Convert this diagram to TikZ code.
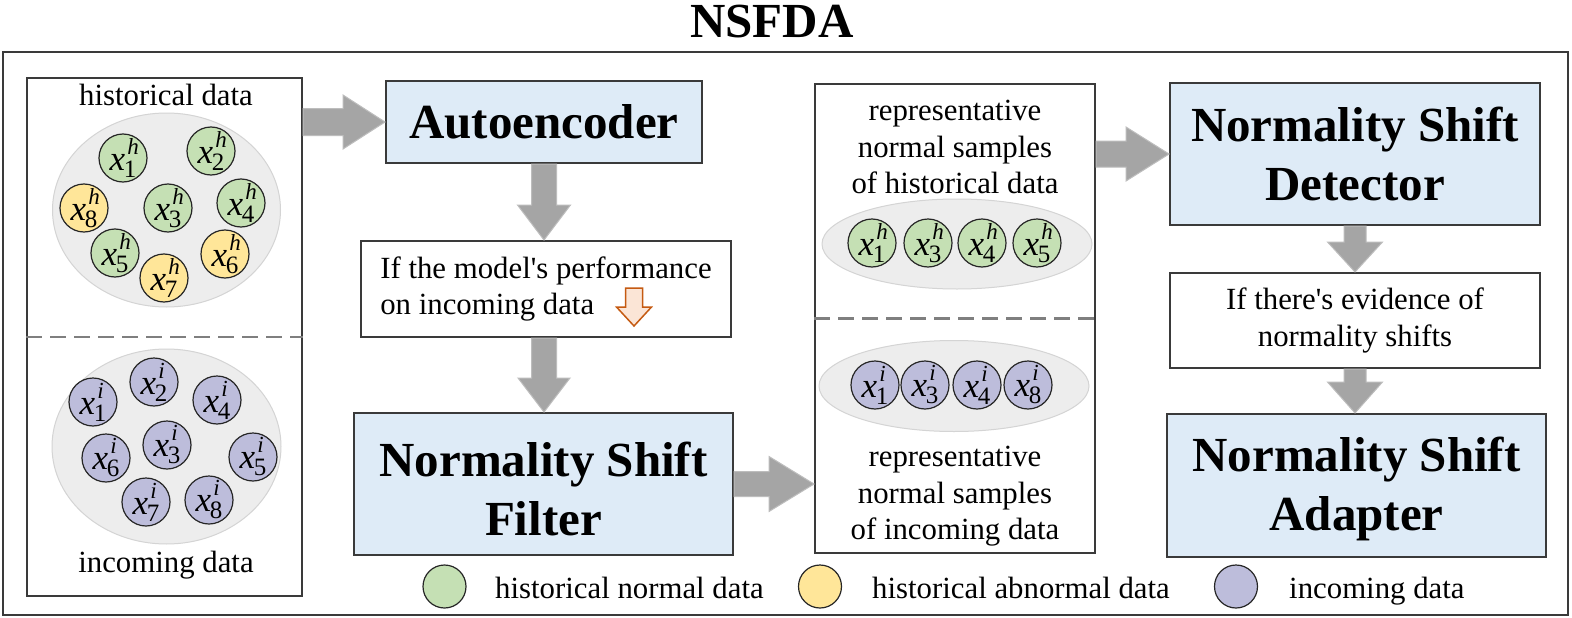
\documentclass[tikz,border=0pt]{standalone}
\usepackage{fontspec}
\setmainfont{Liberation Serif}
\usetikzlibrary{shapes.geometric,calc}
\definecolor{boxline}{HTML}{3A3A3A}
\definecolor{boxblue}{HTML}{DEEBF7}
\definecolor{arrowgray}{HTML}{A5A5A5}
\definecolor{arrowedge}{HTML}{BDBDBD}
\definecolor{greenc}{HTML}{C5E0B4}
\definecolor{yellowc}{HTML}{FFE699}
\definecolor{purplec}{HTML}{BDBDDB}
\definecolor{ellfill}{HTML}{EDEDED}
\definecolor{ellline}{HTML}{D4D4D4}
\definecolor{dashgray}{HTML}{7F7F7F}
\definecolor{orangeline}{HTML}{C55A11}
\definecolor{orangefill}{HTML}{FBE5D6}
\newcommand{\nfnt}{\fontsize{30.8}{36.5}\selectfont}
\newcommand{\bfnt}{\fontsize{49}{59}\selectfont\bfseries}
\newcommand{\tfnt}{\fontsize{49}{49}\selectfont\bfseries}
\newcommand{\mfnt}{\fontsize{35}{35}\selectfont}
\newcommand{\xl}[2]{\textit{x}\kern-1.5pt\rlap{\kern3.5pt\raisebox{16pt}{\fontsize{23}{23}\selectfont\itshape #1}}\raisebox{-7pt}{\fontsize{25}{25}\selectfont #2}}
% horizontal block arrow: [style]{from}{to}{half shaft}{half head}{head length}
\newcommand{\harrow}[6][garrow]{\path[#1] let \p1=(#2), \p2=(#3) in
  (\x1,\y1+#4) -- (\x2-#6,\y1+#4) -- (\x2-#6,\y1+#5) -- (\x2,\y1) --
  (\x2-#6,\y1-#5) -- (\x2-#6,\y1-#4) -- (\x1,\y1-#4) -- cycle;}
% vertical (downward) block arrow
\newcommand{\varrow}[6][garrow]{\path[#1] let \p1=(#2), \p2=(#3) in
  (\x1-#4,\y1) -- (\x1-#4,\y2+#6) -- (\x1-#5,\y2+#6) -- (\x1,\y2) --
  (\x1+#5,\y2+#6) -- (\x1+#4,\y2+#6) -- (\x1+#4,\y1) -- cycle;}
\begin{document}
\begin{tikzpicture}[x=1pt,y=-1pt,
  frame/.style={draw=boxline, line width=2pt, inner sep=0pt},
  bluebox/.style={frame, fill=boxblue, font=\bfnt, align=center},
  condbox/.style={frame, fill=white, font=\nfnt},
  cloud/.style={ellipse, draw=ellline, line width=1pt, fill=ellfill, inner sep=0pt},
  dot/.style={circle, draw=black!85, line width=1.2pt, minimum size=48pt, inner sep=0pt, font=\mfnt},
  hn/.style={dot, fill=greenc},
  ha/.style={dot, fill=yellowc},
  inc/.style={dot, fill=purplec},
  txt/.style={font=\nfnt, align=center, inner sep=0pt},
  sepline/.style={draw=dashgray, line width=2.5pt, dash pattern=on 16pt off 8pt},
  garrow/.style={fill=arrowgray, draw=arrowedge, line width=1pt},
  oarrow/.style={fill=orangefill, draw=orangeline, line width=1.5pt, line join=miter}]
\useasboundingbox (0,0) rectangle (1572,618);
\fill[white] (0,0) rectangle (1572,618);

\node[font=\tfnt, anchor=base, inner sep=0pt] (title) at (772,38) {NSFDA};
\node[frame, minimum width=1565pt, minimum height=563pt] (outer) at (785.5,333.5) {};

% left panel
\node[frame, minimum width=275pt, minimum height=518pt] (lbox) at (164.5,337) {};
\node[txt, anchor=base] (histlbl) at (166,105) {historical data};
\node[cloud, minimum width=228pt, minimum height=194pt] (hcloud) at (166.5,210) {};
\node[hn] (h1) at (123,158) {\xl{h}{1}};
\node[hn] (h2) at (211,151) {\xl{h}{2}};
\node[ha] (h8) at (84,208) {\xl{h}{8}};
\node[hn] (h3) at (168,208) {\xl{h}{3}};
\node[hn] (h4) at (241,203) {\xl{h}{4}};
\node[hn] (h5) at (115,253) {\xl{h}{5}};
\node[ha] (h6) at (225,254) {\xl{h}{6}};
\node[ha] (h7) at (164,278) {\xl{h}{7}};
\draw[sepline] (lbox.west) -- (lbox.east);
\node[cloud, minimum width=229pt, minimum height=195pt] (icloud) at (166.5,446.5) {};
\node[inc] (i1) at (93,402) {\xl{i}{1}};
\node[inc] (i2) at (154,382) {\xl{i}{2}};
\node[inc] (i4) at (217,400) {\xl{i}{4}};
\node[inc] (i6) at (106,458) {\xl{i}{6}};
\node[inc] (i3) at (167,445) {\xl{i}{3}};
\node[inc] (i5) at (253,457) {\xl{i}{5}};
\node[inc] (i7) at (146,502) {\xl{i}{7}};
\node[inc] (i8) at (209,500) {\xl{i}{8}};
\node[txt, anchor=base] (inclbl) at (166,572) {incoming data};

% second column
\node[bluebox, minimum width=316pt, minimum height=82pt] (auto) at (544,122) {Autoencoder};
\node[condbox, align=left, minimum width=370pt, minimum height=96pt] (cond1) at (546,289)
  {If the model\textquotesingle s performance\\on incoming data};
\coordinate (oa1) at (634,288);
\coordinate (oa2) at (634,326);
\varrow[oarrow]{oa1}{oa2}{8.5pt}{17.5pt}{19pt}
\node[bluebox, minimum width=379pt, minimum height=142pt] (filter) at (543.5,484)
  {\rule{0pt}{43.5pt}Normality Shift\\Filter};

% third column
\node[frame, minimum width=280pt, minimum height=469pt] (mid) at (955,318.5) {};
\node[txt] (midt1) at (955,147) {representative\\normal samples\\of historical data};
\node[cloud, minimum width=270pt, minimum height=90pt] (mcloud1) at (957,244) {};
\node[hn] (mh1) at (872,243) {\xl{h}{1}};
\node[hn] (mh3) at (928,243) {\xl{h}{3}};
\node[hn] (mh4) at (982,243) {\xl{h}{4}};
\node[hn] (mh5) at (1037,243) {\xl{h}{5}};
\draw[sepline] (mid.west) -- (mid.east);
\node[cloud, minimum width=270pt, minimum height=91pt] (mcloud2) at (954,386) {};
\node[inc] (mi1) at (875,385) {\xl{i}{1}};
\node[inc] (mi3) at (925,385) {\xl{i}{3}};
\node[inc] (mi4) at (977,385) {\xl{i}{4}};
\node[inc] (mi8) at (1028,385) {\xl{i}{8}};
\node[txt] (midt2) at (955,496.5) {representative\\normal samples\\of incoming data};

% fourth column
\node[bluebox, minimum width=370pt, minimum height=142pt] (det) at (1355,154) {Normality Shift\\Detector};
\node[condbox, align=center, minimum width=370pt, minimum height=95pt] (cond2) at (1355,320.5)
  {If there\textquotesingle s evidence of\\normality shifts};
\node[bluebox, minimum width=379pt, minimum height=143pt] (adapt) at (1356.5,485.5)
  {\rule{0pt}{42pt}Normality Shift\\Adapter};

% block arrows
\harrow{lbox.east |- auto.west}{auto.west}{13.5pt}{27pt}{42pt}
\varrow{auto.south}{cond1.north -| auto.south}{12.5pt}{26.5pt}{35pt}
\varrow{cond1.south -| auto.south}{filter.north}{12.5pt}{26pt}{34pt}
\harrow{filter.east}{filter.east -| mid.west}{12.5pt}{27.5pt}{45pt}
\harrow{mid.east |- det.west}{det.west}{13pt}{27pt}{43pt}
\varrow{det.south}{cond2.north}{11pt}{27.5pt}{30pt}
\varrow{cond2.south}{adapt.north}{11pt}{27.5pt}{31pt}

% legend
\node[hn, minimum size=43pt] (lg1) at (444.5,586.5) {};
\node[txt, anchor=base west] (lt1) at (495,598) {historical normal data};
\node[ha, minimum size=43pt] (lg2) at (820,586.5) {};
\node[txt, anchor=base west] (lt2) at (872,598) {historical abnormal data};
\node[inc, minimum size=43pt] (lg3) at (1236,586.5) {};
\node[txt, anchor=base west] (lt3) at (1289,598) {incoming data};
\end{tikzpicture}
\end{document}
